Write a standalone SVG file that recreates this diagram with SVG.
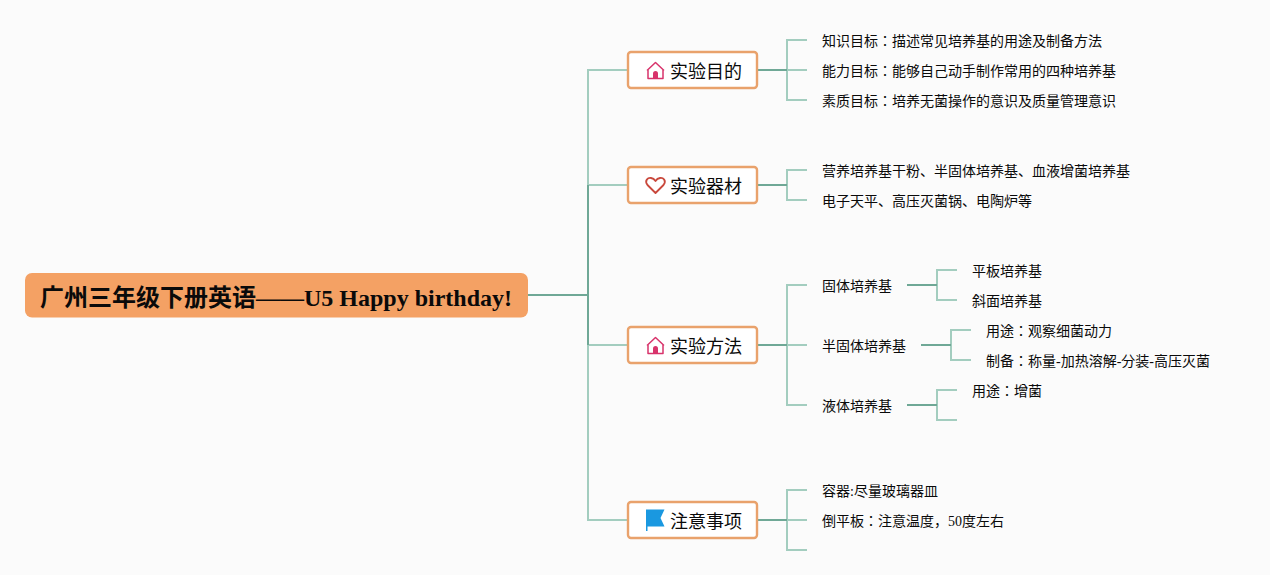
<svg xmlns="http://www.w3.org/2000/svg" width="1270" height="575" viewBox="0 0 1270 575">
<style>
text{font-family:"Liberation Serif","Noto Sans CJK JP",serif;fill:#0a0a0a}
.leaf{font-size:14px}
.topic{font-size:18px}
.root{font-size:24px;font-weight:bold}
.box{fill:#fff;stroke:#e9a26c;stroke-width:2.4}
.lt{fill:none;stroke:#a3cdbf;stroke-width:2}
.dk{fill:none;stroke:#6fa896;stroke-width:2}
</style>
<defs>
<g id="home"><path d="M-8.500 0.500L0-7.500L8.500 0.500M-7.500 0V8.500H7.500V0" fill="none" stroke="#d8336b" stroke-width="1.500" stroke-linejoin="round"/><path d="M-2.500 8.500V3.500a2.500 2.500 0 0 1 5 0V8.500Z" fill="#d8336b"/></g>
</defs>
<rect width="1270" height="575" fill="#fbfbfb"/>
<g id="connectors">
<path class="lt" d="M628 70H588V520H628M588 185H628M588 345H628"/>
<path class="dk" d="M528 295H588M588 185V345"/>
<path class="lt" d="M807 40H787V100H807M787 70H807"/>
<path class="dk" d="M757 70H787"/>
<path class="lt" d="M807 170H787V200H807"/>
<path class="dk" d="M757 185H787"/>
<path class="lt" d="M807 285H787V405H807M787 345H807"/>
<path class="dk" d="M757 345H787"/>
<path class="lt" d="M957 270H937V300H957"/>
<path class="dk" d="M907 285H937"/>
<path class="lt" d="M971 330H951V360H971"/>
<path class="dk" d="M921 345H951"/>
<path class="lt" d="M957 390H937V420H957"/>
<path class="dk" d="M907 405H937"/>
<path class="lt" d="M807 490H787V550H807M787 520H807"/>
<path class="dk" d="M757 520H787"/>
</g>
<g id="root"><rect x="25" y="273" width="503" height="44.500" rx="7" fill="#f4a164"/><text class="root" x="40" y="306">广州三年级下册英语——U5 Happy birthday!</text></g>
<g id="n1"><rect class="box" x="628" y="52" width="129" height="36" rx="3"/><use href="#home" x="655.500" y="70"/><text class="topic" x="670" y="78">实验目的</text></g>
<g id="n2"><rect class="box" x="628" y="167" width="129" height="36" rx="3"/><path d="M655.500 193L647.500 185C644 180.500 648 177.500 651 178C653 178.300 654.500 179.500 655.500 181C656.500 179.500 658 178.300 660 178C663 177.500 667 180.500 663.500 185Z" fill="none" stroke="#c9483c" stroke-width="1.800" stroke-linejoin="round"/><text class="topic" x="670" y="193">实验器材</text></g>
<g id="n3"><rect class="box" x="628" y="327" width="129" height="36" rx="3"/><use href="#home" x="655.500" y="345"/><text class="topic" x="670" y="353">实验方法</text></g>
<g id="n4"><rect class="box" x="628" y="502" width="129" height="36" rx="3"/><path d="M646 509.500H664.500L660.500 518L664.500 526.500H647.500V531H646Z" fill="#1a98e0"/><text class="topic" x="670" y="528">注意事项</text></g>
<g id="leaf1"><text class="leaf" x="822" y="46">知识目标：描述常见培养基的用途及制备方法</text></g>
<g id="leaf2"><text class="leaf" x="822" y="76">能力目标：能够自己动手制作常用的四种培养基</text></g>
<g id="leaf3"><text class="leaf" x="822" y="106">素质目标：培养无菌操作的意识及质量管理意识</text></g>
<g id="leaf4"><text class="leaf" x="822" y="176">营养培养基干粉、半固体培养基、血液增菌培养基</text></g>
<g id="leaf5"><text class="leaf" x="822" y="206">电子天平、高压灭菌锅、电陶炉等</text></g>
<g id="leaf6"><text class="leaf" x="822" y="291">固体培养基</text></g>
<g id="leaf7"><text class="leaf" x="972" y="276">平板培养基</text></g>
<g id="leaf8"><text class="leaf" x="972" y="306">斜面培养基</text></g>
<g id="leaf9"><text class="leaf" x="822" y="351">半固体培养基</text></g>
<g id="leaf10"><text class="leaf" x="986" y="336">用途：观察细菌动力</text></g>
<g id="leaf11"><text class="leaf" x="986" y="366">制备：称量-加热溶解-分装-高压灭菌</text></g>
<g id="leaf12"><text class="leaf" x="822" y="411">液体培养基</text></g>
<g id="leaf13"><text class="leaf" x="972" y="396">用途：增菌</text></g>
<g id="leaf14"><text class="leaf" x="822" y="496">容器:尽量玻璃器皿</text></g>
<g id="leaf15"><text class="leaf" x="822" y="526">倒平板：注意温度，50度左右</text></g>
</svg>
